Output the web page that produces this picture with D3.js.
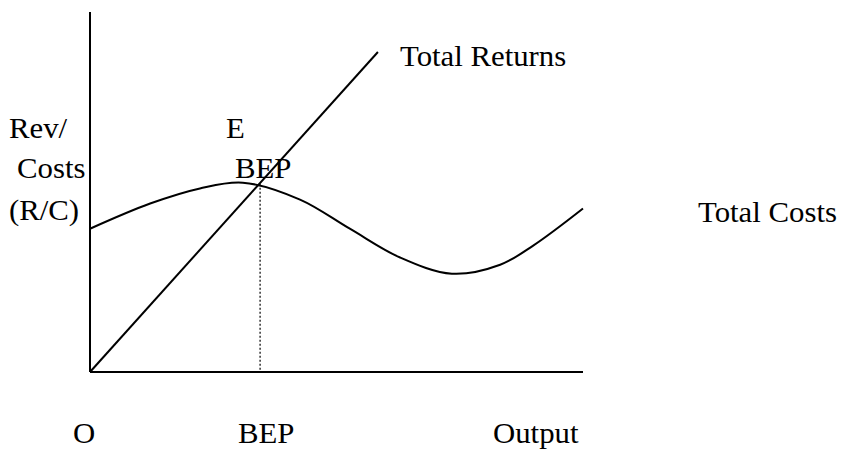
<!DOCTYPE html>
<html>
<head>
<meta charset="utf-8">
<script src="https://cdn.jsdelivr.net/npm/d3@7"></script>
<style>
  html, body { margin: 0; padding: 0; background: #fff; }
  svg text { font-family: "Liberation Serif", "Times New Roman", serif; font-size: 28.5px; fill: #000; }
</style>
</head>
<body>
<svg id="chart" width="845" height="450"></svg>
<script>
  // output units (x) and revenue/cost units (y)
  const costX = [0, 12.2, 22.3, 31, 42.6, 52.7, 62.9, 73.4, 83.2, 89.9, 100];
  const costY = [39.8, 46.8, 51, 52.6, 47.9, 39.8, 31.8, 27.3, 29.8, 35.1, 45.4];
  const returnsX = [0, 58.4];
  const returnsY = [0, 88.9];
  const bepX = 34.5;
  const bepY = 52.3;

  const svg = d3.select("#chart");

  const x = d3.scaleLinear().domain([0, 100]).range([90, 583]);
  const y = d3.scaleLinear().domain([0, 100]).range([372, 12]);

  const line = d3.line()
    .x(d => x(d[0]))
    .y(d => y(d[1]));

  /* ---------- AXES ---------- */
  svg.append("line")
    .attr("x1", x(0)).attr("x2", x(0))
    .attr("y1", y(100)).attr("y2", y(0))
    .attr("stroke", "#000").attr("stroke-width", 2);

  svg.append("line")
    .attr("x1", x(0)).attr("x2", x(100))
    .attr("y1", y(0)).attr("y2", y(0))
    .attr("stroke", "#000").attr("stroke-width", 2);

  /* ---------- CURVES ---------- */
  svg.append("path")
    .datum(costX.map((v, i) => [v, costY[i]]))
    .attr("d", line.curve(d3.curveCatmullRom.alpha(0.5)))
    .attr("fill", "none")
    .attr("stroke", "#000")
    .attr("stroke-width", 2);

  svg.append("path")
    .datum(returnsX.map((v, i) => [v, returnsY[i]]))
    .attr("d", d3.line().x(d => x(d[0])).y(d => y(d[1])))
    .attr("fill", "none")
    .attr("stroke", "#000")
    .attr("stroke-width", 2);

  svg.append("line")
    .attr("x1", x(bepX)).attr("x2", x(bepX))
    .attr("y1", y(bepY)).attr("y2", y(0))
    .attr("stroke", "#000")
    .attr("stroke-width", 1.2)
    .attr("stroke-dasharray", "2,2");

  /* ---------- LABELS ---------- */
  const labels = [
    ["Total Returns", 400, 66],
    ["Rev/", 9, 138],
    ["Costs", 17, 178],
    ["(R/C)", 9, 220],
    ["E", 226, 138],
    ["BEP", 235, 178],
    ["Total Costs", 698, 222],
    ["O", 73, 443],
    ["BEP", 238, 443],
    ["Output", 493, 443]
  ];

  svg.selectAll("text.lbl")
    .data(labels)
    .join("text")
    .attr("class", "lbl")
    .attr("transform", d => `translate(${d[1]},${d[2]}) scale(1.08,1)`)
    .text(d => d[0]);
</script>
</body>
</html>
